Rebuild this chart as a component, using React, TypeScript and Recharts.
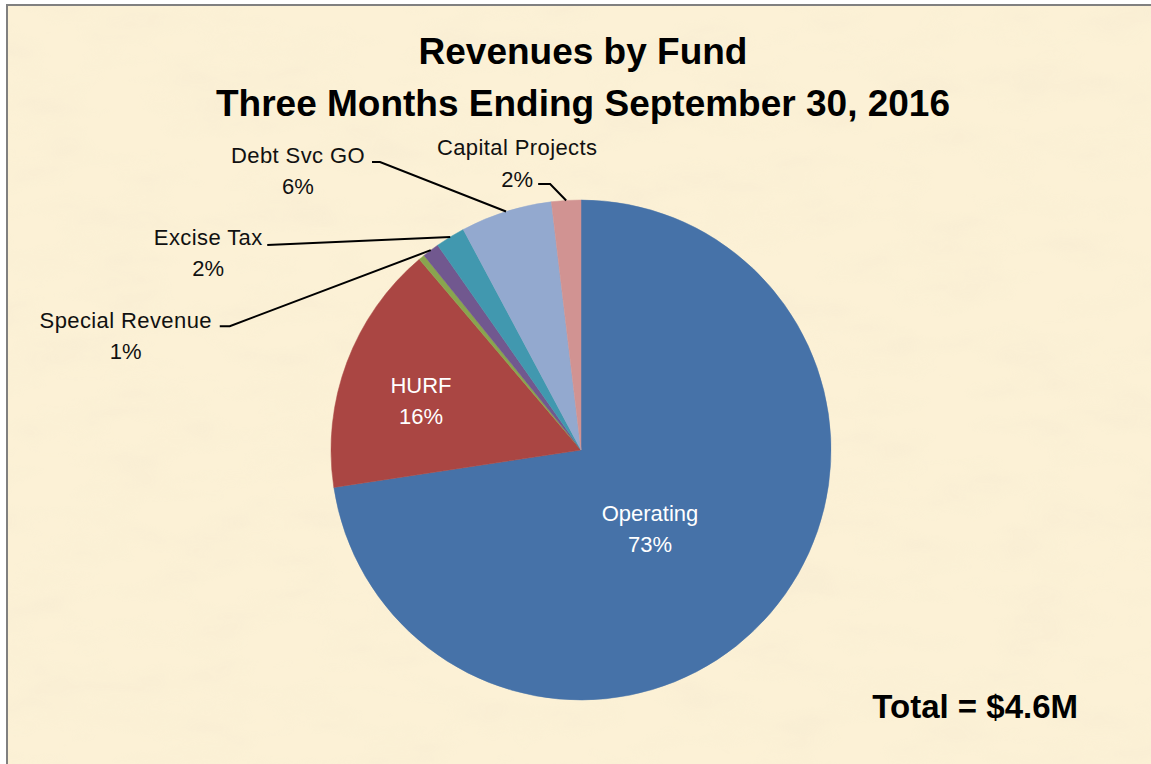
import React from 'react';
import { PieChart, Pie, Cell } from 'recharts';

// ---- data ----
const categories = ['Operating', 'HURF', 'Other', 'Special Revenue', 'Excise Tax', 'Debt Svc GO', 'Capital Projects'];
const values = [3340, 745, 18, 50, 88, 272, 87]; // $K, total ≈ $4.6M
const colors = ['#4672A8', '#AA4643', '#89A54E', '#71588F', '#4198AF', '#93A9CF', '#D19392'];
const titleLines = ['Revenues by Fund', 'Three Months Ending September 30, 2016'];
const totalLabel = 'Total = $4.6M';

const data = categories.map((name, i) => ({ name, value: values[i] }));

// ---- label layout (style only) ----
type Layout =
  | { kind: 'inside'; dx: number; dy1: number; dy2: number }
  | { kind: 'outside'; tx: number; ty1: number; ty2: number; line: [number, number][] }
  | { kind: 'none' };

const labelLayout: Layout[] = [
  { kind: 'inside', dx: 69, dy1: 71, dy2: 102 },
  { kind: 'inside', dx: -160, dy1: -57, dy2: -26 },
  { kind: 'none' },
  { kind: 'outside', tx: -305, ty1: 78, ty2: 109, line: [[-211, 76], [-201, 76]] },
  { kind: 'outside', tx: -242, ty1: 8, ty2: 39, line: [[-183, 8]] },
  { kind: 'outside', tx: -208, ty1: -48.5, ty2: -17.5, line: [[-134, -49.5], [-126, -49.5]] },
  { kind: 'outside', tx: -49, ty1: -45.5, ty2: -13.5, line: [[-28, -16.5], [-16, -16.5]] },
];

const FONT = '"Liberation Sans", Arial, sans-serif';
const RAD = Math.PI / 180;

const renderLabel = (props: any) => {
  const { cx, cy, midAngle, outerRadius, percent, index, name } = props;
  const lay = labelLayout[index];
  if (!lay || lay.kind === 'none') return null;
  const pct = `${Math.round(percent * 100)}%`;
  if (lay.kind === 'inside') {
    const x = cx + lay.dx;
    return (
      <g>
        <text x={x} y={cy + lay.dy1} textAnchor="middle" fill="#fff" fontSize={22} fontFamily={FONT}>{name}</text>
        <text x={x} y={cy + lay.dy2} textAnchor="middle" fill="#fff" fontSize={22} fontFamily={FONT}>{pct}</text>
      </g>
    );
  }
  const ex = cx + outerRadius * Math.cos(-midAngle * RAD);
  const ey = cy + outerRadius * Math.sin(-midAngle * RAD);
  const pts = [...lay.line.map(([dx, dy]) => `${ex + dx},${ey + dy}`), `${ex},${ey}`].join(' ');
  return (
    <g>
      <polyline points={pts} fill="none" stroke="#000" strokeWidth={2} />
      <text x={ex + lay.tx} y={ey + lay.ty1} textAnchor="middle" fill="#111" fontSize={22} fontFamily={FONT} letterSpacing={0.4}>{name}</text>
      <text x={ex + lay.tx} y={ey + lay.ty2} textAnchor="middle" fill="#111" fontSize={22} fontFamily={FONT}>{pct}</text>
    </g>
  );
};

export default function App() {
  const W = 1151;
  const H = 764;
  return (
    <div style={{ position: 'absolute', left: 0, top: 0, width: W, height: H, background: '#fff', overflow: 'hidden' }}>
      <svg width={W} height={H} style={{ position: 'absolute', left: 0, top: 0 }}>
        <defs>
          <filter id="parch" x="0" y="0" width="100%" height="100%">
            <feTurbulence type="fractalNoise" baseFrequency="0.012 0.03" numOctaves={3} seed={7} result="n" />
            <feColorMatrix type="matrix" values="0 0 0 0 0.88  0 0 0 0 0.80  0 0 0 0 0.62  0 0 0 1.1 -0.45" />
          </filter>
        </defs>
        <rect x={7} y={5} width={W + 20} height={H + 20} fill="#FCF1D6" stroke="#808080" strokeWidth={2} />
        <rect x={8} y={6} width={W} height={H} filter="url(#parch)" opacity={0.5} />
        <text x={583} y={64} textAnchor="middle" fontSize={37} fontWeight="bold" fontFamily={FONT} fill="#000">{titleLines[0]}</text>
        <text x={583} y={116} textAnchor="middle" fontSize={37} fontWeight="bold" fontFamily={FONT} fill="#000">{titleLines[1]}</text>
        <text x={1078} y={718} textAnchor="end" fontSize={33} fontWeight="bold" fontFamily={FONT} fill="#000">{totalLabel}</text>
      </svg>
      <div style={{ position: 'absolute', left: 0, top: 0 }}>
        <PieChart width={W} height={H} margin={{ top: 0, right: 0, bottom: 0, left: 0 }}>
          <Pie
            data={data}
            dataKey="value"
            nameKey="name"
            cx={581}
            cy={450}
            outerRadius={250}
            startAngle={90}
            endAngle={-270}
            isAnimationActive={false}
            labelLine={false}
            label={renderLabel}
          >
            {data.map((d, i) => (
              <Cell key={d.name} fill={colors[i]} stroke={colors[i]} strokeWidth={0.5} />
            ))}
          </Pie>
        </PieChart>
      </div>
    </div>
  );
}
